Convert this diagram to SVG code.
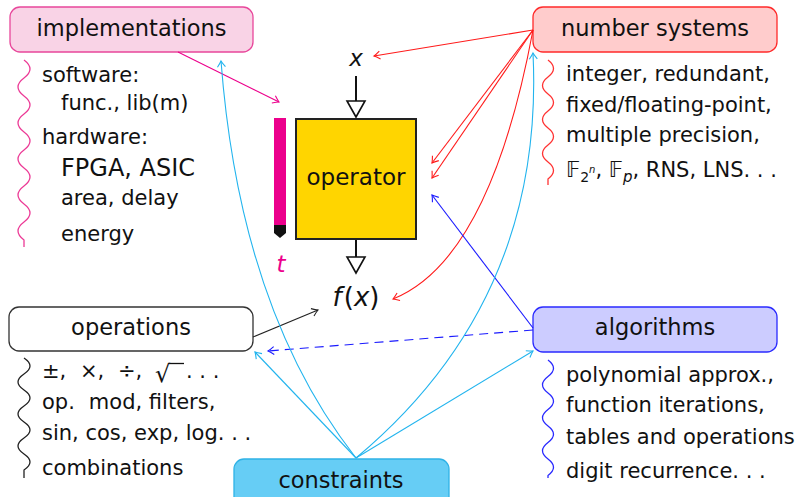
<svg xmlns="http://www.w3.org/2000/svg" width="810" height="497" viewBox="0 0 810 497">
<style>
text{font-family:"DejaVu Sans","Noto Sans",sans-serif;fill:#111}
.h{font-size:22.5px;text-anchor:middle}
.l{font-size:21px}
.i{font-style:italic}
.c{fill:none;stroke-width:1.1}
.wave{fill:none;stroke-width:1.3}
</style>
<defs>
<marker id="am" viewBox="-8 -5 10 10" refX="0" refY="0" markerWidth="10" markerHeight="10" orient="auto" markerUnits="userSpaceOnUse"><path d="M-6,-4 Q-2,-1 0,0 Q-2,1 -6,4" fill="none" stroke="#ec008c" stroke-width="1.1"/></marker>
<marker id="ar" viewBox="-8 -5 10 10" refX="0" refY="0" markerWidth="10" markerHeight="10" orient="auto" markerUnits="userSpaceOnUse"><path d="M-6,-4 Q-2,-1 0,0 Q-2,1 -6,4" fill="none" stroke="#ff1a1a" stroke-width="1.1"/></marker>
<marker id="ab" viewBox="-8 -5 10 10" refX="0" refY="0" markerWidth="10" markerHeight="10" orient="auto" markerUnits="userSpaceOnUse"><path d="M-6,-4 Q-2,-1 0,0 Q-2,1 -6,4" fill="none" stroke="#1a1aff" stroke-width="1.1"/></marker>
<marker id="ac" viewBox="-8 -5 10 10" refX="0" refY="0" markerWidth="10" markerHeight="10" orient="auto" markerUnits="userSpaceOnUse"><path d="M-6,-4 Q-2,-1 0,0 Q-2,1 -6,4" fill="none" stroke="#22b4ee" stroke-width="1.1"/></marker>
<marker id="ak" viewBox="-8 -5 10 10" refX="0" refY="0" markerWidth="10" markerHeight="10" orient="auto" markerUnits="userSpaceOnUse"><path d="M-6,-4 Q-2,-1 0,0 Q-2,1 -6,4" fill="none" stroke="#222" stroke-width="1.1"/></marker>
</defs>

<g id="operator">
<rect x="296" y="119" width="120" height="120" fill="#ffd500" stroke="#222" stroke-width="2"/>
<text x="356" y="185" font-size="23" text-anchor="middle">operator</text>
<line x1="356" y1="76" x2="356" y2="101" stroke="#111" stroke-width="2"/>
<polygon points="347,101 365,101 356,117" fill="#fff" stroke="#111" stroke-width="1.6"/>
<line x1="356" y1="240" x2="356" y2="257" stroke="#111" stroke-width="2"/>
<polygon points="347,257 365,257 356,273" fill="#fff" stroke="#111" stroke-width="1.6"/>
<text x="356" y="66" font-size="23" class="i" text-anchor="middle">x</text>
<text x="356" y="306" font-size="26" text-anchor="middle"><tspan class="i">f</tspan><tspan dx="2">(</tspan><tspan class="i">x</tspan>)</text>
</g>

<g id="time">
<rect x="274" y="118" width="12" height="107" fill="#ec008c"/>
<polygon points="274,225 286,225 286,233 280,238 274,233" fill="#111"/>
<text x="281" y="272" font-size="23" class="i" text-anchor="middle" style="fill:#ec008c">t</text>
</g>

<g id="implementations">
<rect x="10" y="7" width="243" height="45" rx="10" fill="#f9d3e6" stroke="#e8479b" stroke-width="1.3"/>
<text class="h" x="131.5" y="36">implementations</text>
<path class="wave" stroke="#ec3a96" d="M24,60 q12,9 0,18 t0,18 t0,18 t0,18 t0,18 t0,18 t0,18 t0,18 t0,18 t0,18 L24,247"/>
<text class="l" x="42" y="82">software:</text>
<text class="l" x="61" y="110">func., lib(m)</text>
<text class="l" x="42" y="144">hardware:</text>
<text x="61" y="176" font-size="24">FPGA, ASIC</text>
<text class="l" x="61" y="205">area, delay</text>
<text class="l" x="61" y="241">energy</text>
</g>

<g id="number-systems">
<rect x="533" y="7" width="244" height="45" rx="10" fill="#ffcccc" stroke="#ff2a2a" stroke-width="1.3"/>
<text class="h" x="655" y="36">number systems</text>
<path class="wave" stroke="#ff3333" d="M548,60 q11,8.5 0,17 t0,17 t0,17 t0,17 t0,17 t0,17 t0,17 L548,185"/>
<text class="l" x="566" y="81">integer, redundant,</text>
<text class="l" x="566" y="112">fixed/floating-point,</text>
<text class="l" x="566" y="142">multiple precision,</text>
<text class="l" x="566" y="177">𝔽<tspan font-size="14" dy="5">2</tspan><tspan font-size="10" class="i" dy="-9">n</tspan><tspan dy="4">, 𝔽</tspan><tspan font-size="15" class="i" dy="5">p</tspan><tspan dy="-5">, RNS, LNS. . .</tspan></text>
</g>

<g id="operations">
<rect x="9" y="307" width="244" height="44" rx="10" fill="#fff" stroke="#333" stroke-width="1.3"/>
<text class="h" x="131" y="335">operations</text>
<path class="wave" stroke="#222" d="M24,358 q12,8 0,16 t0,16 t0,16 t0,16 t0,16 t0,16 t0,16 L24,478"/>
<text class="l" x="42" y="378">±, <tspan x="80">×,</tspan><tspan x="118">÷,</tspan><tspan x="155" font-size="24" dy="4">√</tspan><tspan x="186" dy="-4">. . .</tspan></text>
<line x1="169" y1="363.5" x2="184" y2="363.5" stroke="#111" stroke-width="1.3"/>
<text class="l" x="42" y="409">op.<tspan dx="14">mod, filters,</tspan></text>
<text class="l" x="42" y="440">sin, cos, exp, log. . .</text>
<text class="l" x="42" y="475">combinations</text>
</g>

<g id="algorithms">
<rect x="533" y="307" width="244" height="45" rx="10" fill="#ccccff" stroke="#2a2aff" stroke-width="1.3"/>
<text class="h" x="655" y="335">algorithms</text>
<path class="wave" stroke="#2a2aff" d="M548,360 q11,8.25 0,16.5 t0,16.5 t0,16.5 t0,16.5 t0,16.5 t0,16.5 t0,16.5 L548,478"/>
<text class="l" x="566" y="382">polynomial approx.,</text>
<text class="l" x="566" y="412">function iterations,</text>
<text class="l" x="566" y="444">tables and operations</text>
<text class="l" x="566" y="478">digit recurrence. . .</text>
</g>

<g id="constraints">
<rect x="234" y="459" width="215" height="50" rx="10" fill="#66cdf5" stroke="#2fb2e6" stroke-width="1.3"/>
<text class="h" x="341" y="488">constraints</text>
</g>

<g id="connectors">
<path class="c" stroke="#ec008c" marker-end="url(#am)" d="M178,52 L279,102"/>
<path class="c" stroke="#ff1a1a" marker-end="url(#ar)" d="M533,30 L374,56"/>
<path class="c" stroke="#ff1a1a" marker-end="url(#ar)" d="M533,30 L432,163"/>
<path class="c" stroke="#ff1a1a" marker-end="url(#ar)" d="M533,30 L432,178"/>
<path class="c" stroke="#ff1a1a" marker-end="url(#ar)" d="M533,30 Q490,260 393,299"/>
<path class="c" stroke="#1a1aff" marker-end="url(#ab)" d="M533,328 L432,195"/>
<path class="c" stroke="#1a1aff" stroke-dasharray="9 6" marker-end="url(#ab)" d="M533,330 L268,351"/>
<path class="c" stroke="#222" marker-end="url(#ak)" d="M253,337 L318,310"/>
<path class="c" stroke="#22b4ee" marker-end="url(#ac)" d="M356,458 Q240,310 221,61"/>
<path class="c" stroke="#22b4ee" marker-end="url(#ac)" d="M356,458 Q545,300 533,53"/>
<path class="c" stroke="#22b4ee" marker-end="url(#ac)" d="M356,458 L255,352"/>
<path class="c" stroke="#22b4ee" marker-end="url(#ac)" d="M356,458 L533,351"/>
</g>
</svg>
